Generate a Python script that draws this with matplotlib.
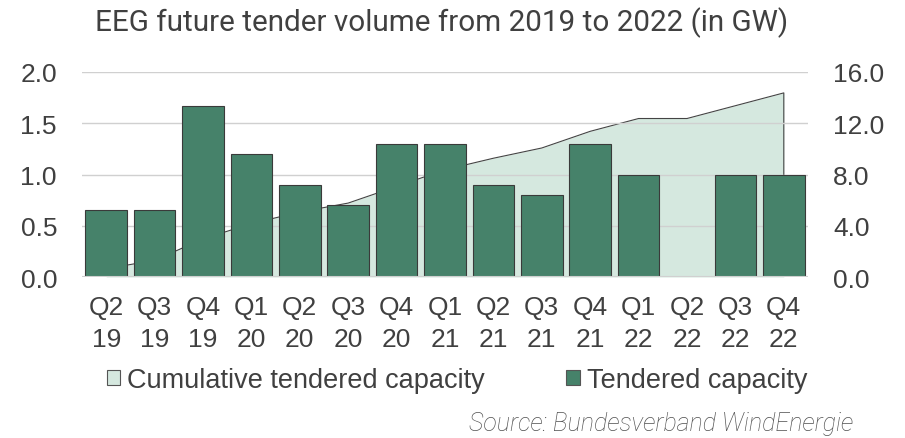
import matplotlib
matplotlib.use("Agg")
import matplotlib.pyplot as plt
from matplotlib.patches import Patch

categories = ["Q2\n19", "Q3\n19", "Q4\n19", "Q1\n20", "Q2\n20", "Q3\n20", "Q4\n20",
              "Q1\n21", "Q2\n21", "Q3\n21", "Q4\n21", "Q1\n22", "Q2\n22", "Q3\n22", "Q4\n22"]
tendered = [0.65, 0.65, 1.67, 1.2, 0.9, 0.7, 1.3, 1.3, 0.9, 0.8, 1.3, 1.0, 0.0, 1.0, 1.0]
cumulative = [0.65, 1.3, 2.97, 4.17, 5.07, 5.77, 7.07, 8.37, 9.27, 10.07, 11.37,
              12.37, 12.37, 13.37, 14.37]
left_ticks = [0.0, 0.5, 1.0, 1.5, 2.0]
right_ticks = [0.0, 4.0, 8.0, 12.0, 16.0]

plt.rcParams['font.family'] = ['Liberation Sans', 'DejaVu Sans']
text_col = '#404040'
bar_col = '#46826a'
area_col = '#d5e8df'

fig = plt.figure(figsize=(9.05, 4.39), dpi=100)
ax = fig.add_axes([82/905, 1-278/439, (808-82)/905, (278-73)/439])
ax2 = ax.twinx()

x = list(range(len(categories)))

# cumulative area on right axis, drawn behind bars
ax2.fill_between(x, cumulative, 0, color=area_col, linewidth=0, zorder=1)
ax2.plot(x + [x[-1]], cumulative + [0], color='#444444', linewidth=0.8, zorder=2)
ax2.set_ylim(0, 16)
ax2.set_yticks(right_ticks)
ax2.set_yticklabels([f"{t:.1f}" for t in right_ticks])

ax.set_zorder(ax2.get_zorder() + 1)
ax.patch.set_visible(False)
ax.bar(x, tendered, width=0.86, color=bar_col, edgecolor='#3a3a3a', linewidth=0.8, zorder=3)
ax.set_ylim(0, 2.0)
ax.set_xlim(-0.5, len(categories) - 0.5)
ax.set_yticks(left_ticks)
ax.set_yticklabels([f"{t:.1f}" for t in left_ticks])
ax.set_xticks(x)
ax.set_xticklabels(categories, linespacing=1.4)
ax.yaxis.grid(True, color='#d0d0d0', linewidth=1.0, zorder=0)
ax.set_axisbelow(True)

for a in (ax, ax2):
    for s in a.spines.values():
        s.set_visible(False)
    a.tick_params(length=0, labelsize=19, colors=text_col)
ax.tick_params(axis='y', pad=18)
ax2.tick_params(axis='y', pad=18)
ax.tick_params(axis='x', pad=13)
ax.axhline(0, color='#d0d0d0', linewidth=1.5, zorder=4)

fig.text(442/905, 1-23/439, "EEG future tender volume from 2019 to 2022 (in GW)",
         ha='center', va='center', fontsize=21.3, color=text_col, family=['Roboto', 'DejaVu Sans'])

handles = [Patch(facecolor=area_col, edgecolor='#555555', linewidth=0.8),
           Patch(facecolor=bar_col, edgecolor='#555555', linewidth=0.8)]
fig.legend(handles, ["Cumulative tendered capacity", "Tendered capacity"],
           loc='center', bbox_to_anchor=(457/905, 1-381/439), ncol=2, frameon=False,
           fontsize=19.5, labelcolor=text_col, handlelength=0.5, handleheight=0.5,
           handletextpad=0.25, columnspacing=3.0, borderpad=0, borderaxespad=0)

fig.text(853/905, 1-424/439, "Source: Bundesverband WindEnergie", ha='right', va='center',
         fontsize=18, style='italic', fontweight='light', color='#505050',
         family=['Roboto', 'DejaVu Sans'])

fig.savefig("out.png", dpi=100)
